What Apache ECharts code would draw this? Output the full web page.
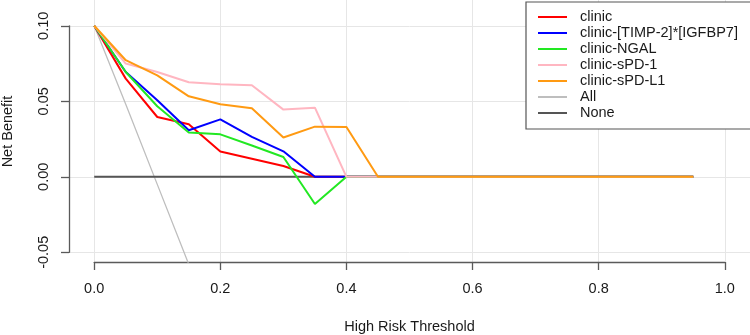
<!DOCTYPE html>
<html><head><meta charset="utf-8">
<script src="https://cdn.jsdelivr.net/npm/echarts@6/dist/echarts.min.js"></script>
<style>html,body{margin:0;padding:0;background:#fff}#c{width:750px;height:335px}</style>
</head><body><div id="c"></div>
<script>
// thresholds (x values)
const thresholds = [0, 0.05, 0.10, 0.15, 0.20, 0.25, 0.30, 0.35, 0.40, 0.45, 0.50, 0.55, 0.60, 0.65, 0.70, 0.75, 0.80, 0.85, 0.90, 0.95];
// net benefit per model
const clinic = [0.100, 0.065, 0.0396, 0.0348, 0.0167, 0.0120, 0.0072, 0, 0, 0, 0, 0, 0, 0, 0, 0, 0, 0, 0, 0];
const clinicTimp = [0.100, 0.0694, 0.0507, 0.0308, 0.0380, 0.0264, 0.0169, 0, 0, 0, 0, 0, 0, 0, 0, 0, 0, 0, 0, 0];
const clinicNgal = [0.100, 0.0694, 0.0467, 0.0293, 0.0281, 0.0207, 0.0131, -0.018, 0, 0, 0, 0, 0, 0, 0, 0, 0, 0, 0, 0];
const clinicSpd1 = [0.100, 0.0750, 0.0694, 0.0626, 0.0613, 0.0606, 0.0445, 0.0458, 0, 0, 0, 0, 0, 0, 0, 0, 0, 0, 0, 0];
const clinicSpdl1 = [0.100, 0.0772, 0.0672, 0.0533, 0.0480, 0.0454, 0.0260, 0.0332, 0.0330, 0, 0, 0, 0, 0, 0, 0, 0, 0, 0, 0];
const allValues = [0.100, 0.048, -0.005, -0.058];
const noneValues = [0, 0, 0, 0, 0, 0, 0, 0, 0, 0, 0, 0, 0, 0, 0, 0, 0, 0, 0, 0];
// axis ticks
const xTicks = [0, 0.2, 0.4, 0.6, 0.8, 1.0];
const yTicks = [-0.05, 0, 0.05, 0.10];

const seriesNames = ['clinic', 'clinic-[TIMP-2]*[IGFBP7]', 'clinic-NGAL', 'clinic-sPD-1', 'clinic-sPD-L1', 'All', 'None'];
const seriesValues = [clinic, clinicTimp, clinicNgal, clinicSpd1, clinicSpdl1, allValues, noneValues];
const seriesColors = ['#FF0000', '#0000FF', '#22E822', '#FFB6C1', '#FF9A12', '#BEBEBE', '#555555'];
const seriesWidths = [2, 2, 2, 2, 2, 1.3, 2];
const seriesZ = [3, 3, 3, 3, 3, 2, 2];

const FONT = 'Liberation Sans, Arial, Helvetica, sans-serif';
const FS = 14.5;
const TXT = '#1a1a1a';
const AX = '#5a5a5a';
const GRIDC = '#e6e6e6';

const chart = echarts.init(document.getElementById('c'), null, {renderer: 'canvas'});
const series = seriesNames.map((n, i) => ({
  name: n,
  type: 'line',
  xAxisIndex: 0,
  yAxisIndex: 0,
  data: seriesValues[i].map((v, j) => [thresholds[j], v]),
  color: seriesColors[i],
  lineStyle: {color: seriesColors[i], width: seriesWidths[i]},
  symbol: 'none',
  showSymbol: false,
  clip: true,
  z: seriesZ[i],
  animation: false,
  emphasis: {disabled: true}
}));

const gridBase = {containLabel: false, outerBoundsMode: 'none'};
chart.setOption({
  animation: false,
  backgroundColor: '#fff',
  textStyle: {fontFamily: FONT},
  grid: [
    Object.assign({left: 69, right: 0, top: 1, bottom: 73}, gridBase),          // data region (usr)
    Object.assign({left: 94.2, right: 25.2, top: 0, bottom: 73}, gridBase),     // x ticks / vertical grid
    Object.assign({left: 69, right: 0, top: 25.8, bottom: 82.7}, gridBase)      // y ticks / horizontal grid
  ],
  xAxis: [
    {gridIndex: 0, type: 'value', min: -0.04, max: 1.04,
     axisLine: {show: false}, axisTick: {show: false}, axisLabel: {show: false}, splitLine: {show: false},
     name: 'High Risk Threshold', nameLocation: 'middle', nameGap: 57,
     nameTextStyle: {fontFamily: FONT, fontSize: FS, color: TXT}},
    {gridIndex: 1, type: 'value', min: 0, max: 1, interval: 0.2, position: 'bottom',
     axisLine: {show: true, lineStyle: {color: AX, width: 1.3}},
     axisTick: {show: true, inside: false, length: 8, lineStyle: {color: AX, width: 1.3}},
     axisLabel: {show: true, margin: 19, fontFamily: FONT, fontSize: FS, color: TXT,
       formatter: v => (xTicks.indexOf(+v.toFixed(2)) >= 0 ? v.toFixed(1) : '')},
     splitLine: {show: true, lineStyle: {color: GRIDC, width: 1}}},
    {gridIndex: 2, type: 'value', min: 0, max: 1, show: false}
  ],
  yAxis: [
    {gridIndex: 0, type: 'value', min: -0.0564, max: 0.1164,
     axisLine: {show: false}, axisTick: {show: false}, axisLabel: {show: false}, splitLine: {show: false},
     name: 'Net Benefit', nameLocation: 'middle', nameGap: 54,
     nameTextStyle: {fontFamily: FONT, fontSize: FS, color: TXT}},
    {gridIndex: 1, type: 'value', min: 0, max: 1, show: false},
    {gridIndex: 2, type: 'value', min: -0.05, max: 0.1, interval: 0.05, position: 'left',
     axisLine: {show: true, lineStyle: {color: AX, width: 1.3}},
     axisTick: {show: true, inside: false, length: 8, lineStyle: {color: AX, width: 1.3}},
     axisLabel: {show: true, rotate: 90, margin: 18, fontFamily: FONT, fontSize: FS, color: TXT,
       formatter: v => (yTicks.some(t => Math.abs(t - v) < 1e-9) ? v.toFixed(2) : '')},
     splitLine: {show: true, lineStyle: {color: GRIDC, width: 1}}}
  ],
  legend: {
    show: true,
    data: seriesNames,
    orient: 'vertical',
    left: 526, top: 2,
    padding: [7, 24, 8, 12],
    itemGap: 0,
    itemWidth: 29, itemHeight: 2,
    icon: 'rect',
    backgroundColor: '#fff',
    borderColor: '#555',
    borderWidth: 1.2,
    selectedMode: false,
    textStyle: {fontFamily: FONT, fontSize: FS, color: TXT, lineHeight: 16, padding: [0, 0, 0, 8]}
  },
  series: series
});
</script></body></html>
